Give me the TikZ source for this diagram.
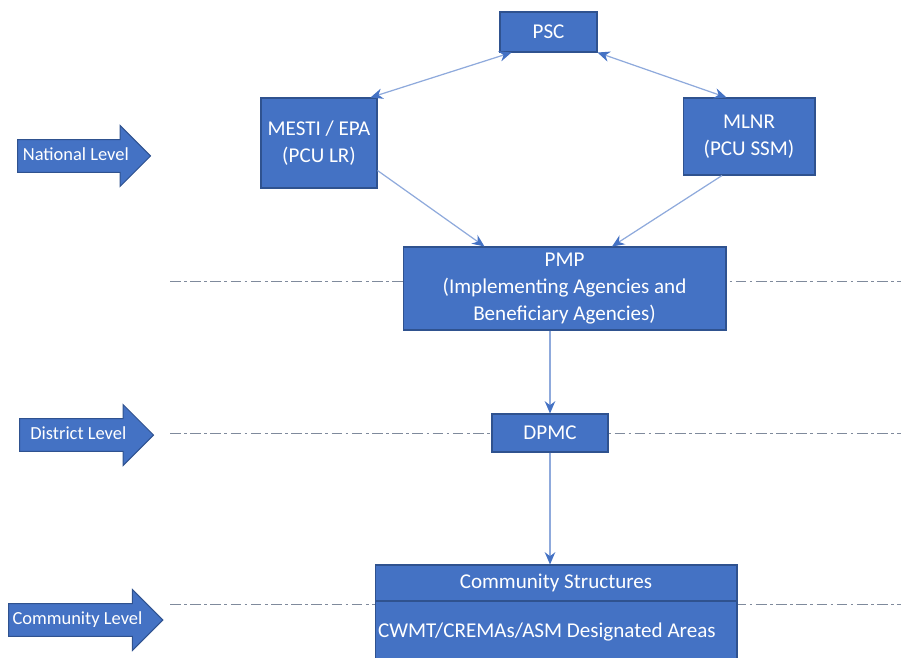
\documentclass[tikz,border=0pt]{standalone}
\usepackage{fontspec}
\setmainfont{Carlito}
\usetikzlibrary{arrows.meta}
\usetikzlibrary{shapes.arrows}

\definecolor{boxblue}{HTML}{4472C4}
\definecolor{boxedge}{HTML}{2F528F}
\definecolor{linkblue}{HTML}{8FAADC}
\definecolor{levelline}{HTML}{7F8A9C}

\begin{document}
\begin{tikzpicture}[x=0.02cm,y=-0.02cm,
  box/.style={draw=boxedge,fill=boxblue,text=white,font=\fontsize{12}{15.3}\selectfont,
    align=center,inner sep=0pt,line width=0.6pt},
  level/.style={single arrow,draw=boxedge,fill=boxblue,text=white,
    font=\fontsize{10.5}{12}\selectfont,single arrow head extend=0.28cm,
    minimum width=1.2cm,text height=8pt,text depth=2.5pt,inner ysep=3.8pt,
    inner xsep=2pt,anchor=tail,line width=0.6pt},
  link/.style={draw=linkblue,line width=0.7pt,-{Stealth[length=7pt,width=6pt,color=boxblue]}},
  both/.style={{Stealth[length=7pt,width=6pt,color=boxblue]}-{Stealth[length=7pt,width=6pt,color=boxblue]}},
  sep/.style={draw=levelline,line width=0.5pt,dash pattern=on 6pt off 2pt on 1.5pt off 2pt}]

\useasboundingbox (0,0) rectangle (901,658);

% level lines
\draw[sep] (170,281) -- (901,281);
\draw[sep] (170,433) -- (901,433);
\draw[sep] (170,604) -- (901,604);

\node[box,minimum width=1.94cm,minimum height=0.8cm] (psc) at (548.5,32) {PSC};
\node[box,minimum width=2.32cm,minimum height=1.8cm] (mesti) at (319,143) {MESTI / EPA\\(PCU LR)};
\node[box,minimum width=2.64cm,minimum height=1.54cm] (mlnr) at (749,136.5) {MLNR\\(PCU SSM)};
\node[box,minimum width=6.46cm,minimum height=1.66cm] (pmp) at (564.5,288.5) {PMP\\(Implementing Agencies and\\Beneficiary Agencies)};
\node[box,minimum width=2.32cm,minimum height=0.76cm] (dpmc) at (550,433) {DPMC};
\node[box,minimum width=7.24cm,minimum height=0.72cm] (comtop) at (556,583) {Community Structures};
\node[box,minimum width=7.24cm,minimum height=1.22cm,inner xsep=0.06cm] (combot) at (556,631.5) {\makebox[7.12cm][l]{CWMT/CREMAs/ASM Designated Areas}};

\node[level,minimum height=2.66cm] (national) at (17,156) {National Level};
\node[level,minimum height=2.68cm] (district) at (19,435) {District Level};
\node[level,minimum height=3.04cm] (community) at (8,620) {Community Level};

\path[every edge/.style={link}]
([xshift=-0.14cm]mesti.north east) edge[both] ([xshift=0.24cm]psc.south west)
(psc.south east) edge[both] ([xshift=0.88cm]mlnr.north west)
([yshift=0.36cm]mesti.south east) edge ([xshift=1.64cm]pmp.north west)
([xshift=-0.54cm]mlnr.south) edge ([xshift=0.95cm]pmp.north)
(pmp.south -| dpmc) edge (dpmc.north)
(dpmc.south) edge (dpmc.south |- comtop.north)
;
\end{tikzpicture}
\end{document}
